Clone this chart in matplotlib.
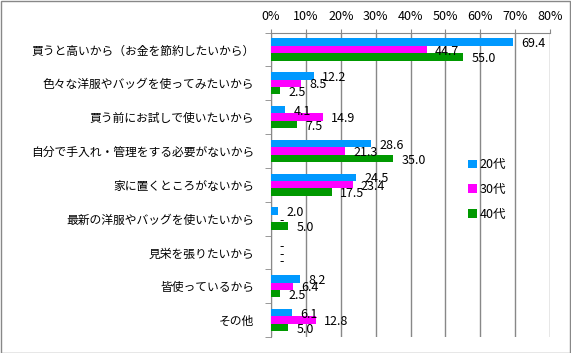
import matplotlib
matplotlib.use("Agg")
import matplotlib.pyplot as plt
import numpy as np
from matplotlib.patches import Rectangle

plt.rcParams['font.family'] = ['Noto Sans CJK JP', 'DejaVu Sans']

categories = ["買うと高いから（お金を節約したいから）", "色々な洋服やバッグを使ってみたいから",
              "買う前にお試しで使いたいから", "自分で手入れ・管理をする必要がないから",
              "家に置くところがないから", "最新の洋服やバッグを使いたいから",
              "見栄を張りたいから", "皆使っているから", "その他"]
series_names = ["20代", "30代", "40代"]
v20 = [69.4, 12.2, 4.1, 28.6, 24.5, 2.0, 0.0, 8.2, 6.1]
v30 = [44.7, 8.5, 14.9, 21.3, 23.4, 0.0, 0.0, 6.4, 12.8]
v40 = [55.0, 2.5, 7.5, 35.0, 17.5, 5.0, 0.0, 2.5, 5.0]
colors = ["#0099FF", "#FF00FF", "#009900"]
xticks = [0, 10, 20, 30, 40, 50, 60, 70, 80]

W, H = 571, 353
fig = plt.figure(figsize=(W/100, H/100), dpi=100)
ax = fig.add_axes([271/W, 1-337/H, (550-271)/W, (337-32.5)/H])

n = len(categories)
bh = 0.22
y = np.arange(n)
for i, (vals, c) in enumerate(zip([v20, v30, v40], colors)):
    ypos = y + (i - 1) * bh
    ax.barh(ypos, vals, height=bh, color=c, label=series_names[i], zorder=3)
    for yy, v in zip(ypos, vals):
        txt = "-" if v == 0 else f"{v:.1f}"
        ax.annotate(txt, (v, yy + 0.05), xytext=(6, 0), textcoords="offset points",
                    ha="left", va="center", fontsize=9, color="black", zorder=4)

ax.set_xlim(0, 80)
ax.set_ylim(n - 0.5, -0.5)
ax.set_xticks(xticks)
ax.set_xticklabels([f"{t}%" for t in xticks], fontsize=9)
ax.xaxis.tick_top()
ax.tick_params(axis='x', length=3, color="#888888", pad=4)
ax.grid(axis='x', color="#888888", linewidth=1, zorder=0)
ax.set_yticks(y)
ax.set_yticklabels(categories, fontsize=8.5)
ax.set_yticks(np.arange(n + 1) - 0.5, minor=True)
ax.tick_params(axis='y', which='major', length=0, pad=12)
ax.tick_params(axis='y', which='minor', length=4, color="#888888")
for s in ['right', 'bottom']:
    ax.spines[s].set_visible(False)
for s in ['left', 'top']:
    ax.spines[s].set_color("#888888")

leg = ax.legend(loc='upper left', bbox_to_anchor=((462-271)/(550-271), 1-(152-32.5)/(337-32.5)),
                frameon=False, fontsize=9, handlelength=0.7, handleheight=0.7,
                handletextpad=0.2, labelspacing=0.95, borderpad=0)

fig.patches.append(Rectangle((0.5/W, 0.5/H), 1-1.5/W, 1-1.5/H, transform=fig.transFigure,
                             fill=False, edgecolor="#888888", linewidth=1))
fig.savefig("out.png", dpi=100)
